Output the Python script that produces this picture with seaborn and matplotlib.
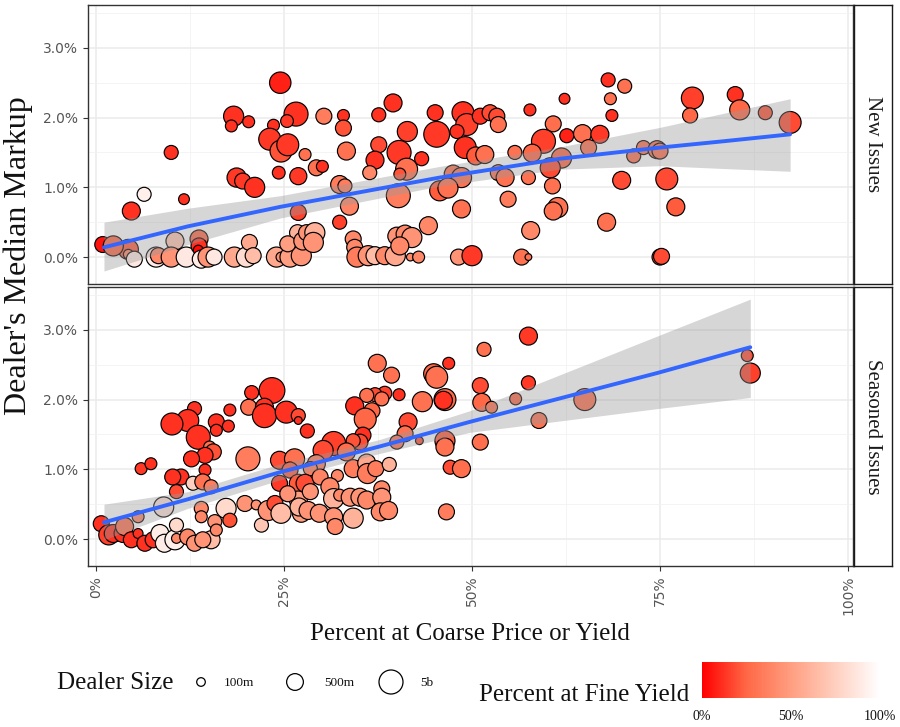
import matplotlib
matplotlib.use("Agg")
import matplotlib.pyplot as plt
import numpy as np
import pandas as pd
import seaborn as sns
from matplotlib.colors import LinearSegmentedColormap, LogNorm, Normalize
from matplotlib.ticker import FuncFormatter, MultipleLocator
from matplotlib.cm import ScalarMappable

sns.set_theme(style="white")
plt.rcParams["font.family"] = ["DejaVu Sans"]
SERIF = ["Liberation Serif", "DejaVu Serif"]

# ---------------- New issues: coarse %, median markup %, fine %, dealer size ($m)
new_coarse = [
    24.5, 18.3, 18.0, 20.3, 23.6, 26.6, 25.4, 23.1, 24.6, 25.5,
    10.0, 18.7, 19.5, 21.1, 24.3, 26.9, 6.4, 4.7, 11.7, 0.9,
    4.3, 2.3, 4.3, 5.1, 8.0, 8.3, 10.5, 10.0, 12.0, 13.7,
    13.7, 13.6, 14.0, 14.9, 15.7, 18.4, 20.0, 20.4, 20.9, 24.0,
    24.6, 25.8, 27.3, 26.8, 25.5, 27.5, 26.9, 30.3, 32.9, 32.9,
    39.5, 37.6, 41.4, 37.6, 40.3, 43.3, 37.1, 36.4, 41.3, 40.4,
    40.2, 33.3, 27.8, 29.3, 30.1, 32.4, 33.1, 33.7, 32.4, 28.0,
    29.1, 28.9, 34.2, 34.4, 34.7, 36.2, 37.1, 38.4, 39.8, 40.0,
    41.1, 42.0, 40.4, 44.2, 41.8, 42.9, 45.1, 45.3, 48.8, 49.3,
    48.0, 51.1, 52.4, 53.3, 53.5, 49.1, 50.5, 51.7, 47.5, 48.6,
    45.7, 46.8, 48.6, 53.5, 54.4, 54.8, 48.2, 50.0, 55.7, 68.1,
    70.3, 68.4, 68.6, 62.3, 57.7, 79.3, 79.0, 60.8, 62.6, 64.7,
    67.0, 59.5, 58.0, 61.9, 60.4, 65.5, 57.5, 60.7, 61.4, 60.8,
    57.8, 56.6, 57.5, 69.9, 67.9, 71.5, 72.8, 74.6, 75.0, 75.9,
    77.1, 75.0, 75.2, 85.0, 85.6, 89.0, 92.3,
]
new_markup = [
    2.50, 2.02, 1.88, 1.94, 1.89, 2.05, 1.95, 1.69, 1.52, 1.61,
    1.50, 1.14, 1.09, 1.00, 1.21, 1.16, 0.90, 0.66, 0.83, 0.18,
    0.11, 0.16, 0.04, -0.03, 0.00, 0.02, 0.23, 0.00, 0.00, 0.26,
    0.16, 0.10, -0.03, 0.00, 0.00, 0.00, 0.00, 0.21, 0.02, 0.00,
    0.00, 0.00, 0.02, 0.35, 0.19, 0.23, 0.64, 2.02, 2.03, 1.85,
    2.21, 2.04, 1.80, 1.61, 1.50, 1.41, 1.39, 1.21, 1.26, 1.19,
    0.88, 1.52, 1.47, 1.28, 1.30, 1.04, 1.02, 0.73, 0.50, 0.35,
    0.35, 0.21, 0.26, 0.14, 0.00, 0.02, 0.02, 0.02, 0.02, 0.30,
    0.33, 0.28, 0.16, 0.45, 0.00, 0.00, 2.07, 1.76, 2.07, 1.90,
    1.80, 2.02, 2.07, 2.02, 1.90, 1.57, 1.45, 1.47, 1.19, 1.14,
    0.95, 0.99, 0.69, 1.21, 1.14, 0.83, 0.00, 0.02, 1.50, 2.54,
    2.45, 2.27, 2.03, 2.27, 2.11, 2.28, 2.03, 1.91, 1.74, 1.77,
    1.76, 1.66, 1.49, 1.42, 1.28, 1.57, 1.14, 1.02, 0.71, 0.66,
    0.38, 0.00, 0.00, 1.10, 0.50, 1.45, 1.57, 1.54, 1.52, 1.12,
    0.72, 0.00, 0.01, 2.33, 2.11, 2.07, 1.93,
]
new_fine = [
    8, 12, 12, 12, 12, 12, 14, 14, 20, 14,
    12, 14, 14, 12, 12, 14, 92, 12, 12, 5,
    22, 25, 40, 88, 90, 40, 70, 45, 88, 25,
    12, 2, 90, 45, 88, 55, 82, 55, 65, 55,
    45, 50, 45, 60, 50, 45, 16, 35, 12, 20,
    12, 12, 16, 18, 14, 12, 12, 40, 30, 20,
    35, 30, 30, 30, 12, 35, 35, 38, 16, 45,
    60, 45, 40, 40, 35, 45, 65, 40, 55, 45,
    40, 45, 40, 40, 40, 40, 12, 14, 12, 16,
    12, 12, 18, 18, 30, 12, 22, 30, 30, 30,
    22, 30, 30, 30, 30, 35, 45, 14, 30, 12,
    30, 30, 12, 12, 12, 16, 25, 28, 8, 30,
    14, 16, 25, 25, 18, 30, 30, 30, 30, 30,
    40, 30, 30, 18, 30, 30, 30, 30, 30, 18,
    22, 18, 18, 12, 25, 20, 18,
]
new_size = [
    2000, 1300, 170, 170, 170, 5000, 200, 2400, 2400, 2400,
    260, 1000, 410, 1300, 200, 550, 260, 700, 140, 410,
    1300, 1300, 120, 410, 1300, 410, 700, 1300, 1300, 700,
    410, 120, 700, 1300, 410, 1300, 1300, 410, 410, 1300,
    120, 1300, 1300, 410, 410, 700, 410, 410, 170, 410,
    700, 260, 1300, 410, 5000, 260, 700, 260, 2400, 170,
    5000, 700, 170, 410, 170, 700, 260, 700, 260, 410,
    1300, 1300, 410, 410, 1300, 1300, 700, 700, 1300, 700,
    700, 1300, 700, 700, 90, 170, 410, 10000, 2400, 2400,
    260, 410, 410, 410, 410, 2400, 700, 700, 700, 1300,
    1300, 1300, 700, 410, 700, 410, 410, 1300, 260, 260,
    260, 170, 170, 140, 170, 2400, 330, 410, 260, 700,
    700, 5000, 700, 1300, 1300, 410, 260, 410, 1300, 700,
    700, 410, 80, 700, 700, 260, 260, 700, 410, 2400,
    700, 410, 410, 410, 1300, 260, 2400,
]

# ---------------- Seasoned issues
seasoned_coarse = [
    23.4, 20.7, 20.3, 22.4, 22.4, 25.3, 26.9, 26.9, 13.1, 12.2,
    10.1, 17.8, 16.0, 17.6, 16.0, 13.6, 15.1, 15.6, 14.5, 12.7,
    14.5, 6.0, 7.3, 11.3, 10.2, 12.9, 14.2, 15.3, 10.7, 9.0,
    20.2, 0.7, 1.7, 2.3, 3.6, 3.8, 4.7, 5.6, 5.6, 6.5,
    7.6, 8.5, 9.1, 10.5, 10.7, 10.7, 12.2, 13.1, 14.0, 14.0,
    15.8, 17.3, 17.8, 15.3, 14.2, 16.0, 19.8, 21.3, 22.0, 22.9,
    23.8, 24.4, 24.4, 26.4, 25.8, 26.9, 26.9, 25.5, 24.6, 27.3,
    51.6, 37.4, 39.3, 44.9, 45.3, 46.9, 46.4, 46.2, 43.4, 40.3,
    38.4, 37.1, 36.0, 34.4, 36.7, 38.0, 35.8, 28.1, 41.5, 41.1,
    43.0, 40.0, 35.5, 35.1, 34.2, 31.6, 30.2, 33.3, 46.4, 46.4,
    51.1, 51.1, 51.3, 52.6, 47.1, 48.6, 46.6, 29.3, 28.5, 27.8,
    29.8, 32.1, 31.1, 34.2, 36.0, 36.1, 37.2, 39.0, 28.5, 27.0,
    28.2, 29.7, 31.6, 32.4, 31.6, 31.8, 34.2, 33.8, 35.1, 36.0,
    38.0, 38.0, 37.8, 38.9, 57.5, 57.5, 55.8, 58.9, 65.0, 86.6,
    87.0,
]
seasoned_markup = [
    2.13, 2.10, 1.89, 1.89, 1.77, 1.82, 1.77, 1.70, 1.87, 1.70,
    1.65, 1.85, 1.68, 1.62, 1.56, 1.46, 1.32, 1.25, 1.20, 1.15,
    0.99, 1.01, 1.08, 0.89, 0.89, 0.80, 0.82, 0.75, 0.68, 0.46,
    1.15, 0.22, 0.06, 0.08, 0.08, 0.18, -0.01, 0.08, 0.32, -0.06,
    -0.01, 0.08, -0.06, -0.01, 0.20, 0.01, 0.03, -0.06, 0.44, 0.32,
    0.25, 0.44, 0.27, -0.01, -0.01, 0.13, 0.51, 0.49, 0.20, 0.41,
    0.51, 0.80, 1.13, 1.15, 0.99, 0.80, 0.56, 0.65, 0.37, 0.37,
    2.72, 2.52, 2.35, 2.37, 2.32, 2.52, 2.00, 1.99, 1.97, 2.07,
    2.09, 2.07, 2.06, 1.91, 1.84, 2.01, 1.72, 1.55, 1.68, 1.51,
    1.41, 1.39, 1.49, 1.39, 1.41, 1.37, 1.27, 1.25, 1.41, 1.32,
    1.39, 2.20, 1.96, 1.89, 1.03, 1.01, 0.39, 1.08, 1.01, 0.80,
    0.89, 0.91, 0.75, 1.01, 1.09, 0.94, 1.01, 1.07, 0.68, 0.46,
    0.41, 0.37, 0.58, 0.63, 0.32, 0.18, 0.30, 0.60, 0.60, 0.56,
    0.72, 0.60, 0.39, 0.41, 2.91, 2.24, 2.01, 1.70, 2.00, 2.63,
    2.38,
]
seasoned_fine = [
    12, 12, 30, 12, 12, 12, 18, 12, 12, 12,
    12, 12, 12, 12, 12, 12, 30, 20, 12, 12,
    12, 14, 12, 12, 12, 75, 30, 35, 18, 85,
    35, 12, 16, 12, 12, 30, 12, 12, 40, 12,
    12, 90, 90, 92, 80, 40, 40, 45, 40, 40,
    45, 80, 20, 65, 45, 40, 45, 45, 70, 45,
    18, 14, 18, 30, 22, 22, 50, 45, 65, 50,
    30, 30, 30, 25, 30, 12, 25, 12, 30, 12,
    16, 18, 30, 12, 25, 30, 25, 12, 18, 30,
    18, 30, 12, 18, 20, 16, 18, 28, 22, 30,
    28, 18, 25, 30, 18, 28, 35, 35, 35, 18,
    38, 40, 40, 35, 55, 35, 35, 60, 45, 60,
    45, 45, 60, 40, 45, 40, 60, 45, 45, 40,
    40, 45, 40, 40, 14, 14, 25, 30, 30, 18,
    16,
]
seasoned_size = [
    10000, 260, 410, 700, 5000, 2400, 260, 90, 260, 2400,
    2400, 170, 410, 170, 170, 5000, 170, 410, 410, 410,
    170, 170, 170, 410, 410, 260, 410, 260, 260, 1300,
    5000, 410, 1300, 700, 700, 700, 410, 120, 170, 410,
    410, 700, 700, 1300, 260, 120, 410, 410, 260, 170,
    260, 1300, 260, 700, 410, 170, 410, 120, 260, 1300,
    410, 410, 700, 1300, 410, 700, 700, 410, 1300, 700,
    260, 700, 410, 1300, 2400, 170, 2400, 700, 1300, 170,
    260, 260, 260, 700, 410, 260, 2400, 260, 700, 410,
    90, 260, 410, 410, 260, 5000, 1300, 700, 1300, 700,
    410, 410, 700, 170, 260, 700, 410, 700, 260, 700,
    410, 170, 700, 700, 700, 1300, 410, 260, 410, 700,
    700, 700, 1300, 170, 700, 410, 1300, 700, 700, 700,
    410, 700, 700, 700, 700, 260, 170, 410, 2400, 170,
    1300,
]

# ---------------- Smoothed trend with confidence band
new_smooth_x = [1.06, 12.2, 24.5, 45.7, 61.7, 75.0, 83.4, 92.3]
new_smooth_fit = [0.14, 0.44, 0.72, 1.14, 1.41, 1.57, 1.66, 1.76]
new_smooth_lo = [-0.20, 0.18, 0.56, 1.02, 1.26, 1.31, 1.27, 1.23]
new_smooth_hi = [0.50, 0.70, 0.88, 1.30, 1.58, 1.86, 2.06, 2.27]

seasoned_smooth_x = [1.06, 12.2, 24.5, 37.8, 49.7, 74.6, 87.0]
seasoned_smooth_fit = [0.24, 0.57, 0.96, 1.33, 1.68, 2.38, 2.75]
seasoned_smooth_lo = [-0.01, 0.44, 0.85, 1.23, 1.53, 1.87, 2.03]
seasoned_smooth_hi = [0.50, 0.68, 1.08, 1.43, 1.84, 2.91, 3.44]

facets = ["New Issues", "Seasoned Issues"]
size_breaks = [100, 500, 5000]
size_labels = ["100m", "500m", "5b"]
fine_ticks = [0, 50, 100]

# ---------------- Scales
fine_cmap = LinearSegmentedColormap.from_list(
    "fine", [(0.0, "#FF0000"), (0.25, "#FF6846"), (0.5, "#FF9E81"),
             (0.75, "#FFCFBF"), (1.0, "#FFFFFF")])
fine_norm = Normalize(0, 100)
size_norm = LogNorm(vmin=80, vmax=10000)
size_range = (23.5, 344.7)


def marker_area(v):
    t = size_norm(v)
    return size_range[0] + t * (size_range[1] - size_range[0])


frames = [
    pd.DataFrame({"coarse": new_coarse, "markup": new_markup,
                  "fine": new_fine, "dealer": new_size}),
    pd.DataFrame({"coarse": seasoned_coarse, "markup": seasoned_markup,
                  "fine": seasoned_fine, "dealer": seasoned_size}),
]
smooths = [
    pd.DataFrame({"x": new_smooth_x, "fit": new_smooth_fit,
                  "lo": new_smooth_lo, "hi": new_smooth_hi}),
    pd.DataFrame({"x": seasoned_smooth_x, "fit": seasoned_smooth_fit,
                  "lo": seasoned_smooth_lo, "hi": seasoned_smooth_hi}),
]

W, H = 900, 727
fig = plt.figure(figsize=(W / 100, H / 100), dpi=100)
fig.patch.set_facecolor("white")


def box(x0, y0, x1, y1):
    return [x0 / W, 1 - y1 / H, (x1 - x0) / W, (y1 - y0) / H]


panel_rows = [(5, 284), (287, 566)]
pct_fmt_y = FuncFormatter(lambda v, p: f"{v:.1f}%")
pct_fmt_x = FuncFormatter(lambda v, p: f"{v:.0f}%")

for i, (df, sm, label, (top, bot)) in enumerate(zip(frames, smooths, facets, panel_rows)):
    ax = fig.add_axes(box(88, top, 853, bot))
    ax.set_facecolor("white")
    sns.scatterplot(data=df, x="coarse", y="markup", hue="fine", size="dealer",
                    palette=fine_cmap, hue_norm=fine_norm,
                    sizes=size_range, size_norm=size_norm,
                    edgecolor="black", linewidth=0.85, alpha=1,
                    legend=False, ax=ax, zorder=3)
    ax.fill_between(sm["x"], sm["lo"], sm["hi"], color="#999999",
                    alpha=0.4, linewidth=0, zorder=4)
    sns.lineplot(data=sm, x="x", y="fit", color="#3366FF", linewidth=2.8,
                 estimator=None, sort=False, ax=ax, zorder=5)

    ax.set_xlim(-1.064, 100.66)
    ax.set_ylim(-0.386, 3.614)
    ax.xaxis.set_major_locator(MultipleLocator(25))
    ax.xaxis.set_minor_locator(MultipleLocator(12.5))
    ax.yaxis.set_major_locator(MultipleLocator(1))
    ax.yaxis.set_minor_locator(MultipleLocator(0.5))
    ax.set_axisbelow(True)
    ax.grid(which="major", color="#EBEBEB", linewidth=1.1, zorder=0)
    ax.grid(which="minor", color="#F2F2F2", linewidth=0.6, zorder=0)
    for s in ax.spines.values():
        s.set_color("#333333")
        s.set_linewidth(1.0)
    ax.yaxis.set_major_formatter(pct_fmt_y)
    ax.xaxis.set_major_formatter(pct_fmt_x)
    ax.tick_params(which="major", direction="out", length=3.5, width=0.8,
                   color="#333333", labelsize=10, labelcolor="#555555",
                   left=True, bottom=True)
    ax.tick_params(which="minor", length=0)
    ax.set_xlabel("")
    ax.set_ylabel("")
    if i == 0:
        ax.tick_params(axis="x", labelbottom=False, bottom=False)
    else:
        for t in ax.get_xticklabels():
            t.set_rotation(90)

    # facet strip on the right
    sax = fig.add_axes(box(854, top, 892, bot))
    sax.set_facecolor("white")
    sax.set_xticks([])
    sax.set_yticks([])
    for s in sax.spines.values():
        s.set_color("#1A1A1A")
        s.set_linewidth(1.0)
    sax.text(0.5, 0.5, label, rotation=270, ha="center", va="center",
             family=SERIF, fontsize=15, color="#1A1A1A", transform=sax.transAxes)

# axis titles
fig.text(470 / W, 1 - 634 / H, "Percent at Coarse Price or Yield",
         ha="center", va="center", family=SERIF, fontsize=18, color="#111111")
fig.text(18 / W, 1 - 256 / H, "Dealer's Median Markup", rotation=90,
         ha="center", va="center", family=SERIF, fontsize=23, color="#111111")

# size legend, laid out in pixel coordinates
lax = fig.add_axes([0, 0, 1, 1])
lax.set_xlim(0, W)
lax.set_ylim(H, 0)
lax.axis("off")
lax.patch.set_alpha(0)
lax.text(57, 683, "Dealer Size", ha="left", va="center",
         family=SERIF, fontsize=18, color="#111111")
key_x = [201, 295, 391]
lax.scatter(key_x, [682] * 3, s=[marker_area(v) for v in size_breaks],
            facecolor="white", edgecolor="black", linewidth=0.9)
for kx, lab in zip(key_x, size_labels):
    lax.text(kx + 23 if lab == "100m" else kx + 29, 683, lab, ha="left",
             va="center", family=SERIF, fontsize=9.5, color="#111111")

# fill colour bar
lax.text(689, 695, "Percent at Fine Yield", ha="right",
         va="center", family=SERIF, fontsize=18, color="#111111")
cax = fig.add_axes(box(702, 662, 880, 698))
cb = fig.colorbar(ScalarMappable(norm=fine_norm, cmap=fine_cmap), cax=cax,
                  orientation="horizontal")
cb.outline.set_visible(False)
cb.set_ticks(fine_ticks)
cb.set_ticklabels([f"{t}%" for t in fine_ticks])
cax.tick_params(axis="x", direction="in", length=6, width=0.8, color="white",
                labelsize=10, pad=9)
for t in cax.get_xticklabels():
    t.set_family(SERIF)
    t.set_color("#111111")

fig.savefig("out.png", dpi=100, facecolor="white")
